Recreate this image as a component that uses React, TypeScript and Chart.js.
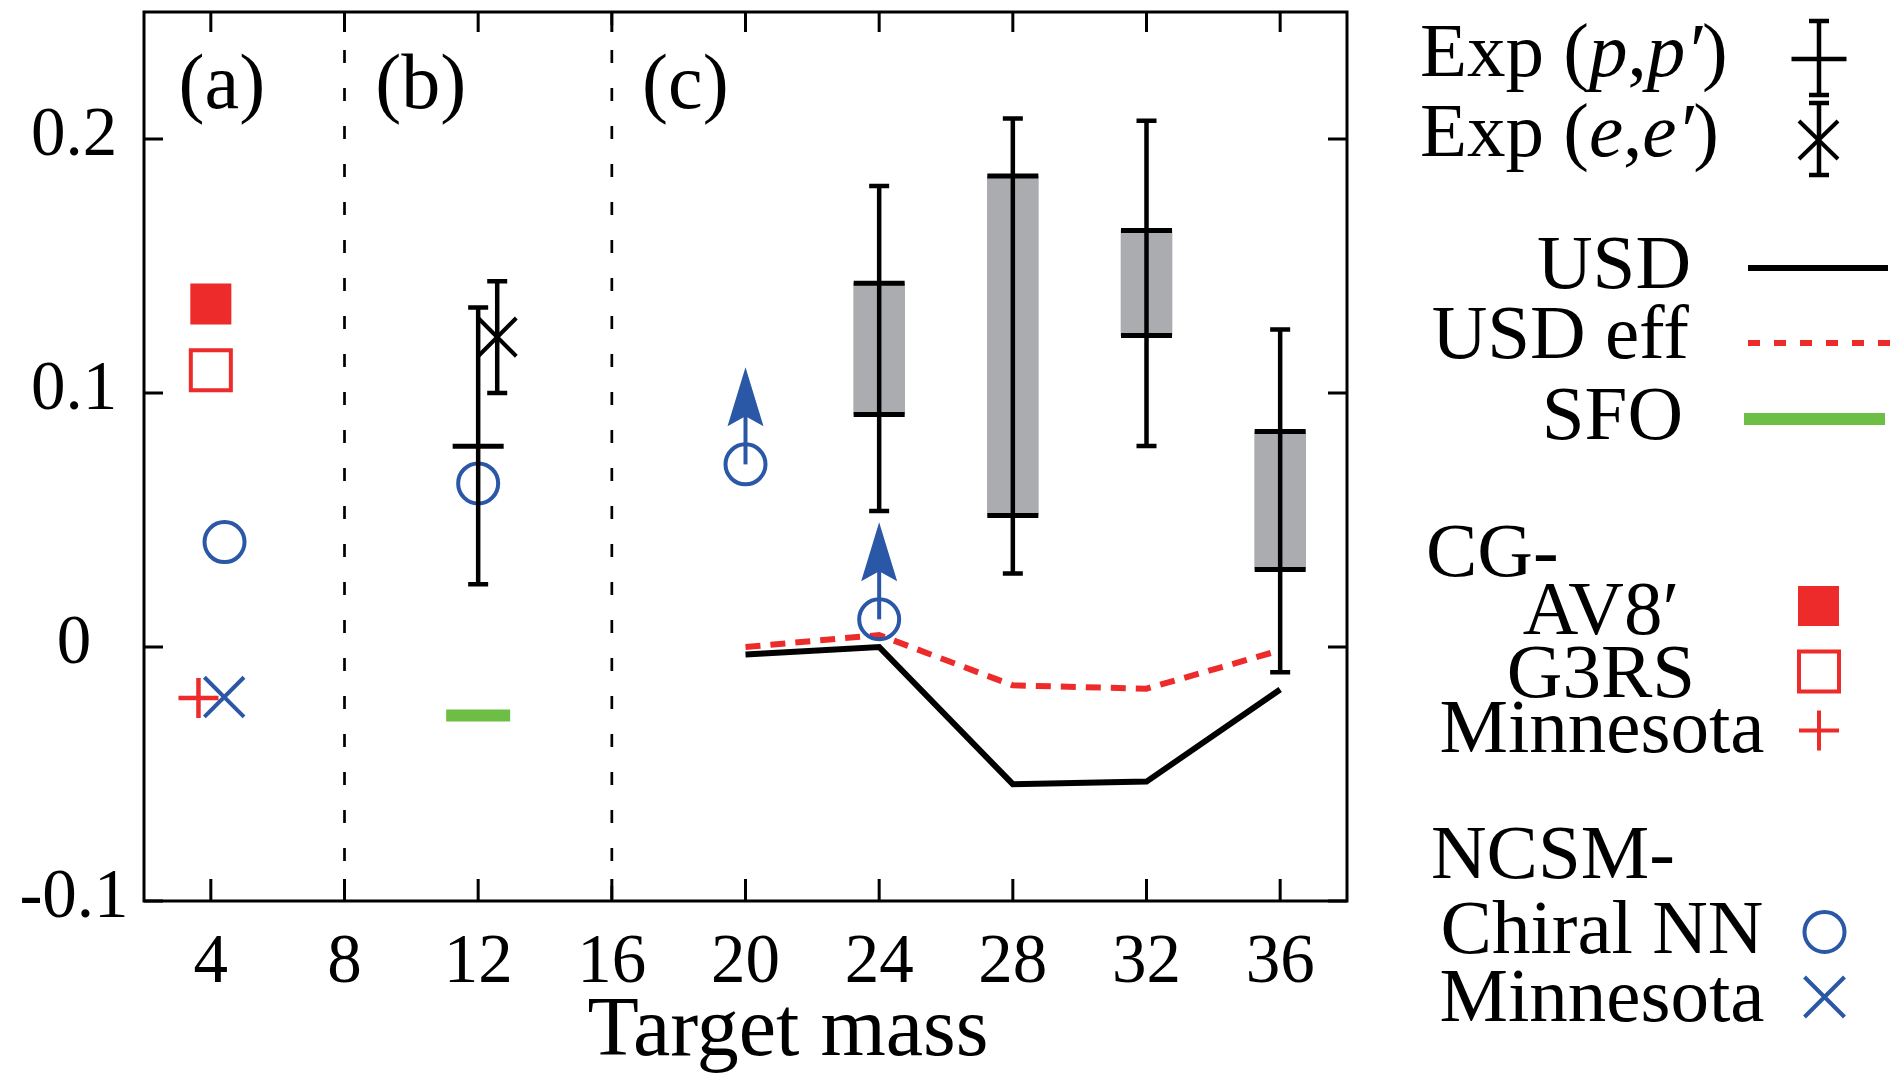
import React, { useEffect, useRef } from 'react';
import { Chart, registerables } from 'chart.js';

Chart.register(...registerables);

// ---------- data ----------
const xTicks = [4, 8, 12, 16, 20, 24, 28, 32, 36];
const yTicks = [-0.1, 0, 0.1, 0.2];
const yTickLabels = ['-0.1', '0', '0.1', '0.2'];
const dividerX = [8, 16];

const usdX = [20, 24, 28, 32, 36];
const usdY = [-0.003, 0.0, -0.054, -0.053, -0.0167];
const usdEffY = [0.0, 0.0047, -0.0151, -0.0164, -0.0013];

const sfoX = [12];
const sfoY = [-0.027];

const ppX = [12];
const ppY = [0.079];
const ppLo = [0.0247];
const ppHi = [0.1337];

const eeX = [12.57];
const eeY = [0.122];
const eeLo = [0.1];
const eeHi = [0.144];

const boxX = [24, 28, 32, 36];
const boxLow = [0.0915, 0.0518, 0.1226, 0.0305];
const boxHigh = [0.1432, 0.1854, 0.164, 0.0848];
const boxErrLo = [0.0535, 0.0289, 0.0791, -0.0099];
const boxErrHi = [0.1815, 0.2081, 0.2072, 0.125];

const av8X = [4];
const av8Y = [0.135];
const g3rsX = [4];
const g3rsY = [0.109];
const cgMinX = [3.63];
const cgMinY = [-0.0201];

const chiralX = [4.41, 12, 20, 24];
const chiralY = [0.0413, 0.0644, 0.0719, 0.0109];
const chiralLowerBound = [false, false, true, true];
const ncsmMinX = [4.4];
const ncsmMinY = [-0.0197];

const panelLabels = ['(a)', '(b)', '(c)'];
const panelLabelX = [4.33, 10.28, 18.2];
const panelLabelY = 0.2122;

// ---------- styles ----------
const RED = '#ee2b2b';
const BLUE = '#2a57a6';
const GREEN = '#6cbe45';
const GREY = '#abacb0';
const SERIF = '"Liberation Serif", "DejaVu Serif", serif';

const pts = (xs: number[], ys: number[]) => xs.map((x, i) => ({ x, y: ys[i] }));

function drawErr(ctx: CanvasRenderingContext2D, x: number, lo: number, hi: number) {
  ctx.save();
  ctx.strokeStyle = '#000';
  ctx.lineWidth = 4.5;
  ctx.setLineDash([]);
  ctx.beginPath();
  ctx.moveTo(x, lo);
  ctx.lineTo(x, hi);
  ctx.moveTo(x - 10, lo);
  ctx.lineTo(x + 10, lo);
  ctx.moveTo(x - 10, hi);
  ctx.lineTo(x + 10, hi);
  ctx.stroke();
  ctx.restore();
}

function drawArrowUp(ctx: CanvasRenderingContext2D, x: number, y: number) {
  ctx.save();
  ctx.strokeStyle = BLUE;
  ctx.fillStyle = BLUE;
  ctx.lineWidth = 4;
  ctx.beginPath();
  ctx.moveTo(x, y);
  ctx.lineTo(x, y - 50);
  ctx.stroke();
  ctx.beginPath();
  ctx.moveTo(x, y - 97);
  ctx.lineTo(x + 18, y - 38);
  ctx.lineTo(x, y - 48);
  ctx.lineTo(x - 18, y - 38);
  ctx.closePath();
  ctx.fill();
  ctx.restore();
}

type Part = { t: string; i?: boolean };
function drawRich(ctx: CanvasRenderingContext2D, parts: Part[], x: number, y: number, align: 'left' | 'right' | 'center', size = 77) {
  const fontOf = (p: Part) => `${p.i ? 'italic ' : ''}${size}px ${SERIF}`;
  let total = 0;
  for (const p of parts) {
    ctx.font = fontOf(p);
    total += ctx.measureText(p.t).width;
  }
  let cx = align === 'left' ? x : align === 'right' ? x - total : x - total / 2;
  ctx.textAlign = 'left';
  ctx.textBaseline = 'alphabetic';
  ctx.fillStyle = '#000';
  for (const p of parts) {
    ctx.font = fontOf(p);
    ctx.fillText(p.t, cx, y);
    cx += ctx.measureText(p.t).width;
  }
}

const decor = {
  id: 'decor',
  beforeDatasetsDraw(chart: any) {
    const { ctx, chartArea, scales } = chart;
    ctx.save();
    ctx.strokeStyle = '#000';
    ctx.lineWidth = 2.7;
    ctx.setLineDash([13, 25]);
    for (const v of dividerX) {
      const px = scales.x.getPixelForValue(v);
      ctx.beginPath();
      ctx.moveTo(px, chartArea.top);
      ctx.lineTo(px, chartArea.bottom);
      ctx.stroke();
    }
    ctx.restore();
  },
  afterDatasetsDraw(chart: any) {
    const { ctx, scales } = chart;
    const X = scales.x, Y = scales.y;
    ppX.forEach((x, i) => drawErr(ctx, X.getPixelForValue(x), Y.getPixelForValue(ppLo[i]), Y.getPixelForValue(ppHi[i])));
    eeX.forEach((x, i) => drawErr(ctx, X.getPixelForValue(x), Y.getPixelForValue(eeLo[i]), Y.getPixelForValue(eeHi[i])));
    boxX.forEach((x, i) => drawErr(ctx, X.getPixelForValue(x), Y.getPixelForValue(boxErrLo[i]), Y.getPixelForValue(boxErrHi[i])));
    chiralX.forEach((x, i) => {
      if (chiralLowerBound[i]) drawArrowUp(ctx, X.getPixelForValue(x), Y.getPixelForValue(chiralY[i]));
    });
  },
  afterDraw(chart: any) {
    const { ctx, chartArea: a, scales } = chart;
    const X = scales.x, Y = scales.y;
    ctx.save();
    // frame
    ctx.strokeStyle = '#000';
    ctx.lineWidth = 3;
    ctx.setLineDash([]);
    ctx.strokeRect(a.left, a.top, a.right - a.left, a.bottom - a.top);
    // inward ticks
    ctx.lineWidth = 3;
    ctx.beginPath();
    for (const v of xTicks) {
      const px = X.getPixelForValue(v);
      ctx.moveTo(px, a.bottom);
      ctx.lineTo(px, a.bottom - 22);
      ctx.moveTo(px, a.top);
      ctx.lineTo(px, a.top + 20);
    }
    for (const v of yTicks) {
      const py = Y.getPixelForValue(v);
      ctx.moveTo(a.left, py);
      ctx.lineTo(a.left + 19, py);
      ctx.moveTo(a.right, py);
      ctx.lineTo(a.right - 19, py);
    }
    ctx.stroke();

    // y tick labels (positions from the y scale)
    ctx.fillStyle = '#000';
    ctx.font = `69px ${SERIF}`;
    ctx.textAlign = 'center';
    ctx.textBaseline = 'alphabetic';
    yTicks.forEach((v, i) => ctx.fillText(yTickLabels[i], 74, Y.getPixelForValue(v) + 16));

    // panel labels
    ctx.font = `78px ${SERIF}`;
    panelLabels.forEach((t, i) => ctx.fillText(t, X.getPixelForValue(panelLabelX[i]), Y.getPixelForValue(panelLabelY)));

    // axis title
    ctx.font = `84px ${SERIF}`;
    ctx.fillText('Target mass', 788, 1055);

    // legend
    drawRich(ctx, [{ t: 'Exp (' }, { t: 'p', i: true }, { t: ',' }, { t: 'p′', i: true }, { t: ')' }], 1420, 76, 'left');
    drawRich(ctx, [{ t: 'Exp (' }, { t: 'e', i: true }, { t: ',' }, { t: 'e′', i: true }, { t: ')' }], 1420, 156, 'left');
    drawRich(ctx, [{ t: 'USD' }], 1691, 288, 'right');
    drawRich(ctx, [{ t: 'USD eff' }], 1689, 358, 'right');
    drawRich(ctx, [{ t: 'SFO' }], 1683, 439, 'right');
    drawRich(ctx, [{ t: 'CG-' }], 1426, 576, 'left');
    drawRich(ctx, [{ t: 'AV8′' }], 1601, 634, 'center');
    drawRich(ctx, [{ t: 'G3RS' }], 1601, 697, 'center');
    drawRich(ctx, [{ t: 'Minnesota' }], 1602, 752, 'center');
    drawRich(ctx, [{ t: 'NCSM-' }], 1431, 878, 'left');
    drawRich(ctx, [{ t: 'Chiral NN' }], 1602, 953, 'center');
    drawRich(ctx, [{ t: 'Minnesota' }], 1602, 1021, 'center');

    // legend symbols
    ctx.strokeStyle = '#000';
    ctx.lineWidth = 4.5;
    ctx.beginPath();
    ctx.moveTo(1791.5, 59); ctx.lineTo(1846.5, 59);
    ctx.stroke();
    drawErr(ctx, 1819, 95, 21);
    drawErr(ctx, 1819, 175, 103);
    ctx.strokeStyle = '#000';
    ctx.lineWidth = 4;
    ctx.beginPath();
    ctx.moveTo(1799, 121); ctx.lineTo(1838, 159);
    ctx.moveTo(1799, 159); ctx.lineTo(1838, 121);
    ctx.stroke();

    ctx.lineWidth = 6;
    ctx.beginPath();
    ctx.moveTo(1748, 268); ctx.lineTo(1888, 268);
    ctx.stroke();
    ctx.strokeStyle = RED;
    ctx.setLineDash([12, 14]);
    ctx.beginPath();
    ctx.moveTo(1748, 343); ctx.lineTo(1890, 343);
    ctx.stroke();
    ctx.setLineDash([]);
    ctx.strokeStyle = GREEN;
    ctx.lineWidth = 12;
    ctx.beginPath();
    ctx.moveTo(1744, 419); ctx.lineTo(1885, 419);
    ctx.stroke();

    ctx.fillStyle = RED;
    ctx.fillRect(1798, 586, 41, 40);
    ctx.strokeStyle = RED;
    ctx.lineWidth = 4;
    ctx.strokeRect(1799, 651.5, 40, 40);
    ctx.beginPath();
    ctx.moveTo(1799, 730.6); ctx.lineTo(1839, 730.6);
    ctx.moveTo(1819, 710.6); ctx.lineTo(1819, 750.6);
    ctx.stroke();

    ctx.strokeStyle = BLUE;
    ctx.beginPath();
    ctx.arc(1824.5, 932, 20, 0, Math.PI * 2);
    ctx.stroke();
    ctx.beginPath();
    ctx.moveTo(1804.5, 977); ctx.lineTo(1844.5, 1017);
    ctx.moveTo(1804.5, 1017); ctx.lineTo(1844.5, 977);
    ctx.stroke();
    ctx.restore();
  },
};

export default function App() {
  const ref = useRef<HTMLCanvasElement | null>(null);
  useEffect(() => {
    if (!ref.current) return;
    const chart = new Chart(ref.current, {
      type: 'scatter',
      data: {
        datasets: [
          {
            type: 'line',
            label: 'USD',
            data: pts(usdX, usdY),
            borderColor: '#000',
            borderWidth: 6,
            pointRadius: 0,
            order: 2,
          } as any,
          {
            type: 'line',
            label: 'USD eff',
            data: pts(usdX, usdEffY),
            borderColor: RED,
            borderWidth: 6,
            borderDash: [15, 10],
            pointRadius: 0,
            order: 1,
          } as any,
          {
            label: 'SFO',
            data: pts(sfoX, sfoY),
            pointStyle: 'line',
            pointRadius: 32,
            pointBorderWidth: 12,
            pointBorderColor: GREEN,
            order: 1,
          } as any,
          {
            label: 'Exp (p,p′) box',
            type: 'bar',
            data: boxX.map((x, i) => ({ x, y: [boxLow[i], boxHigh[i]] })),
            backgroundColor: GREY,
            borderWidth: 0,
            barThickness: 51,
            order: 10,
          } as any,
          {
            label: 'Exp (p,p′) edges',
            data: boxX.flatMap((x, i) => [{ x, y: boxLow[i] }, { x, y: boxHigh[i] }]).concat(pts(ppX, ppY)),
            pointStyle: 'line',
            pointRadius: 25.5,
            pointBorderWidth: 5,
            pointBorderColor: '#000',
            order: 1,
          } as any,
          {
            label: 'Exp (e,e′)',
            data: pts(eeX, eeY),
            pointStyle: 'crossRot',
            pointRadius: 27,
            pointBorderWidth: 4,
            pointBorderColor: '#000',
            order: 1,
          } as any,
          {
            label: 'CG-AV8′',
            data: pts(av8X, av8Y),
            pointStyle: 'rect',
            pointRadius: 29,
            pointBorderWidth: 0,
            pointBackgroundColor: RED,
            order: 1,
          } as any,
          {
            label: 'CG-G3RS',
            data: pts(g3rsX, g3rsY),
            pointStyle: 'rect',
            pointRadius: 28.3,
            pointBorderWidth: 4,
            pointBorderColor: RED,
            pointBackgroundColor: 'rgba(0,0,0,0)',
            order: 1,
          } as any,
          {
            label: 'CG-Minnesota',
            data: pts(cgMinX, cgMinY),
            pointStyle: 'cross',
            pointRadius: 20,
            pointBorderWidth: 4.5,
            pointBorderColor: RED,
            order: 1,
          } as any,
          {
            label: 'NCSM-Chiral NN',
            data: pts(chiralX, chiralY),
            pointStyle: 'circle',
            pointRadius: 20,
            pointBorderWidth: 4,
            pointBorderColor: BLUE,
            pointBackgroundColor: 'rgba(0,0,0,0)',
            order: 0,
          } as any,
          {
            label: 'NCSM-Minnesota',
            data: pts(ncsmMinX, ncsmMinY),
            pointStyle: 'crossRot',
            pointRadius: 28,
            pointBorderWidth: 4,
            pointBorderColor: BLUE,
            order: 0,
          } as any,
        ],
      },
      options: {
        animation: false,
        responsive: true,
        maintainAspectRatio: false,
        events: [],
        layout: { autoPadding: false, padding: { left: 0, top: 12, right: 543, bottom: 0 } },
        plugins: { legend: { display: false }, tooltip: { enabled: false } },
        scales: {
          x: {
            type: 'linear',
            position: 'bottom',
            min: 2,
            max: 38,
            offset: false,
            grid: { display: false, drawTicks: false },
            border: { display: false },
            afterBuildTicks: (s: any) => {
              s.ticks = xTicks.map((v) => ({ value: v }));
            },
            afterFit: (s: any) => {
              s.height = 175;
              s.paddingLeft = 0;
              s.paddingRight = 0;
            },
            ticks: {
              color: '#000',
              font: { family: SERIF, size: 69 },
              padding: 21,
              maxRotation: 0,
              autoSkip: false,
              callback: (v: any) => String(v),
            },
          },
          y: {
            type: 'linear',
            position: 'left',
            min: -0.1,
            max: 0.25,
            grid: { display: false, drawTicks: false },
            border: { display: false },
            afterBuildTicks: (s: any) => {
              s.ticks = yTicks.map((v) => ({ value: v }));
            },
            afterFit: (s: any) => {
              s.width = 144;
              s.paddingTop = 0;
              s.paddingBottom = 0;
            },
            ticks: { display: false },
          },
        },
      } as any,
      plugins: [decor],
    });
    return () => chart.destroy();
  }, []);

  return (
    <div style={{ position: 'fixed', left: 0, top: 0, width: 1890, height: 1076, background: '#fff' }}>
      <canvas ref={ref} />
    </div>
  );
}
